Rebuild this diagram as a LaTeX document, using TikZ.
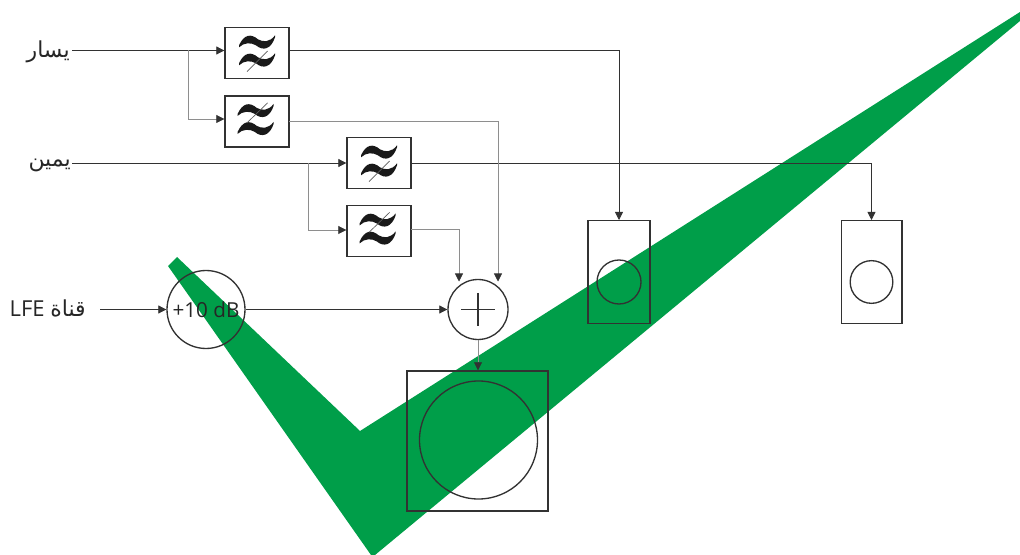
\documentclass[tikz,border=0pt]{standalone}
\usepackage{fontspec}
\setmainfont{Open Sans}
\newfontfamily\arabicfont[Script=Arabic]{DejaVu Sans}
\TeXXeTstate=1
\usetikzlibrary{arrows.meta}
\definecolor{tickgreen}{RGB}{0,158,73}
\definecolor{wire}{RGB}{50,50,50}
\tikzset{
  line/.style={draw=wire,line width=0.6pt},
  faint/.style={draw=wire!55,line width=0.5pt},
  head/.style={-{Triangle[length=6pt,width=6pt,color=wire,fill=wire]}},
  filterbox/.style={draw=wire,line width=1pt,minimum width=48pt,minimum height=38.25pt,inner sep=0pt},
  spkbox/.style={draw=wire,line width=1pt,minimum width=46.5pt,minimum height=77pt,inner sep=0pt},
  cone/.style={circle,draw=wire,line width=1pt,inner sep=0pt},
  lbl/.style={inner sep=0pt,text=black!85,font=\fontsize{15.5}{18}\selectfont},
  arlbl/.style={inner sep=0pt,text=black!85,font=\fontsize{16.5}{19}\selectfont},
  pics/wave/.style={code={
    \fill[black!90] (-18,3) .. controls (-13,-8) and (-6,-9) .. (1,-3) .. controls (6,0) and (13,0) .. (18,-7)
       -- (18,-5) .. controls (14,7) and (6,9) .. (-1,3) .. controls (-6,0) and (-13,0) .. (-18,5) -- cycle;
  }},
}
\begin{document}
\begin{tikzpicture}[x=0.75pt,y=-0.75pt]
\useasboundingbox (0,0) rectangle (1020,555);

\fill[tickgreen] (168,266) -- (177,257) -- (360,431) -- (1020,12) -- (1020,21) -- (375,555) -- (371,555) -- cycle;

% filters
\node[filterbox] (filterA) at (257,53) {};
\node[filterbox] (filterB) at (257,121.5) {};
\node[filterbox] (filterC) at (379,163) {};
\node[filterbox] (filterD) at (379,231) {};

% slash on lower wave for A and C, on upper wave for B and D
\foreach \f in {filterA,filterC} {
  \pic at ([yshift=8pt]\f.center) {wave};
  \pic at ([yshift=-5.5pt]\f.center) {wave};
  \draw[wire!80,line width=0.5pt] ([xshift=-7.5pt,yshift=-14pt]\f.center) -- ([xshift=8pt,yshift=1.5pt]\f.center);
}
\foreach \f in {filterB,filterD} {
  \pic at ([xshift=-1pt,yshift=8pt]\f.center) {wave};
  \pic at ([xshift=-1pt,yshift=-5.5pt]\f.center) {wave};
  \draw[wire!80,line width=0.5pt] ([xshift=-7.5pt,yshift=-1pt]\f.center) -- ([xshift=8pt,yshift=14pt]\f.center);
}

% speakers
\node[spkbox] (spkL) at (619,272) {};
\node[cone,minimum size=33pt] (coneL) at (619,282) {};
\node[spkbox,minimum width=45.5pt] (spkR) at (871.5,272) {};
\node[cone,minimum size=32pt] (coneR) at (871.5,282) {};
\node[draw=wire,line width=1pt,minimum width=105.75pt,minimum height=105pt,inner sep=0pt] (sub) at (477.5,441) {};
\node[cone,minimum size=88.5pt] (coneS) at (478.5,440) {};

% gain and sum
\node[cone,minimum size=58.5pt,lbl] (gain) at (206,309.5) {+10 dB};
\node[cone,minimum size=45pt] (adder) at (478,309.5) {};
\draw[wire,line width=1.2pt] ([xshift=-12.5pt]adder.center) -- ([xshift=12.5pt]adder.center);
\draw[wire,line width=1.2pt] ([yshift=12.5pt]adder.center) -- ([yshift=-12.5pt]adder.center);

% inputs
\node[arlbl,anchor=east] (left) at (70,52) {\arabicfont\beginR يسار\endR};
\node[arlbl,anchor=east] (right) at (71,165) {\arabicfont\beginR يمين\endR};
\node[lbl,anchor=east,font=\fontsize{16.5}{19}\selectfont] (lfe) at (86,308) {\beginR{\arabicfont قناة} \beginL LFE\endL\endR};

\coordinate (inA) at (72,50.5);
\coordinate (inB) at (72,163);
\coordinate (inC) at (100,309.5);
\coordinate (tapA) at (188,50.5);
\coordinate (tapB) at (308.5,163);
\coordinate (feedB) at (188,119);
\coordinate (feedD) at (308.5,230);
\coordinate (outB) at (289,121);
\coordinate (outD) at (411,229);
\coordinate (dropB) at (498,281.5);
\coordinate (dropD) at (459,281.5);

\draw[line,head] (inA) -- (inA -| filterA.west);
\draw[faint,head] (tapA) -- (feedB) -- (feedB -| filterB.west);
\draw[line,head] (inB) -- (inB -| filterC.west);
\draw[faint,head] (tapB) -- (feedD) -- (feedD -| filterD.west);
\draw[line,head] (inC) -- (gain.west);

% outputs
\draw[line,head] (inA -| filterA.east) -| (spkL.north);
\draw[line,head] (inB -| filterC.east) -| (spkR.north);
\draw[faint,head] (outB) -| (dropB);
\draw[faint,head] (outD) -| (dropD);
\draw[line,head] (gain.east) -- (adder.west);
\draw[faint,head] (adder.south) -- (sub.north -| adder.south);
\end{tikzpicture}
\end{document}
